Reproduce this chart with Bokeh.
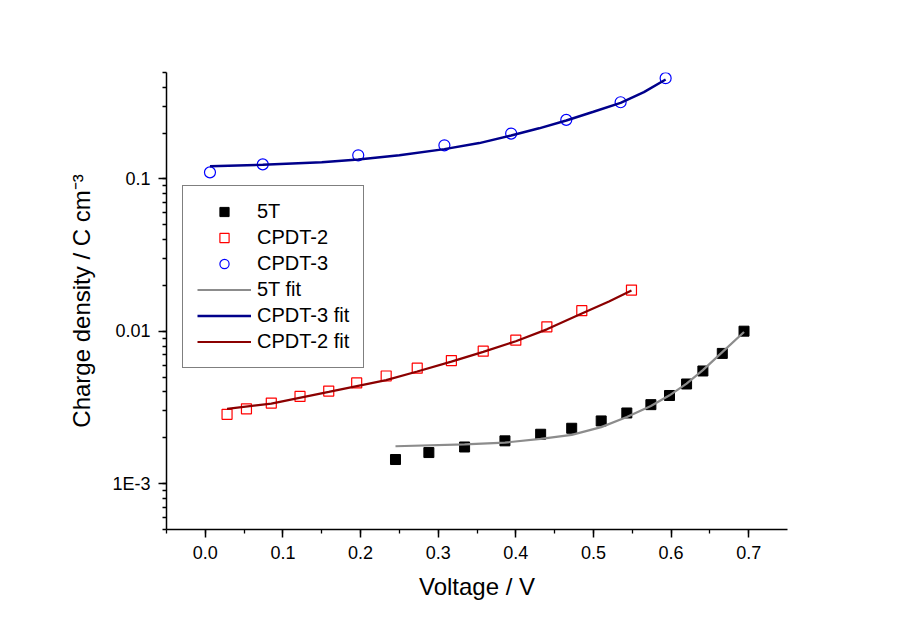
from bokeh.plotting import figure
from bokeh.models import Range1d, SingleIntervalTicker, LogTicker, PrintfTickFormatter, CustomJSTickFormatter
from bokeh.embed import file_html
from bokeh.resources import INLINE

# ---- data ----
x_5t = [0.245, 0.288, 0.334, 0.386, 0.432, 0.472, 0.510, 0.543, 0.574, 0.598, 0.620, 0.641, 0.666, 0.694]
y_5t = [0.00144, 0.00160, 0.00174, 0.00191, 0.00211, 0.00231, 0.00258, 0.00291, 0.00330, 0.00379, 0.00451, 0.00549, 0.00716, 0.01002]

x_cpdt2 = [0.028, 0.053, 0.085, 0.122, 0.159, 0.195, 0.233, 0.273, 0.317, 0.358, 0.400, 0.440, 0.485, 0.549]
y_cpdt2 = [0.00285, 0.00310, 0.00338, 0.00374, 0.00405, 0.00458, 0.00509, 0.00573, 0.00643, 0.00741, 0.00875, 0.0107, 0.01365, 0.01866]

x_cpdt3 = [0.006, 0.074, 0.197, 0.308, 0.394, 0.465, 0.535, 0.593]
y_cpdt3 = [0.1105, 0.1247, 0.143, 0.1663, 0.1986, 0.2443, 0.319, 0.459]

fit_5t_x = [0.245, 0.334, 0.386, 0.432, 0.472, 0.510, 0.543, 0.574, 0.598, 0.620, 0.641, 0.666, 0.694]
fit_5t_y = [0.00176, 0.00181, 0.00186, 0.00197, 0.00209, 0.00235, 0.00274, 0.00323, 0.00380, 0.00454, 0.00556, 0.00730, 0.00990]

fit_3_x = [0.006, 0.074, 0.150, 0.197, 0.250, 0.308, 0.353, 0.394, 0.430, 0.465, 0.500, 0.535, 0.565, 0.593]
fit_3_y = [0.121, 0.124, 0.129, 0.134, 0.143, 0.157, 0.172, 0.193, 0.215, 0.242, 0.276, 0.316, 0.372, 0.450]

fit_2_x = [0.028, 0.085, 0.159, 0.233, 0.273, 0.317, 0.358, 0.400, 0.440, 0.485, 0.520, 0.549]
fit_2_y = [0.0031, 0.00335, 0.0040, 0.00478, 0.00545, 0.00632, 0.00733, 0.00861, 0.0103, 0.0131, 0.0157, 0.0185]

y_tick_values = [0.001, 0.01, 0.1]
y_tick_labels = ["1E-3", "0.01", "0.1"]

FONT = "Liberation Sans"

p = figure(width=904, height=630, y_axis_type="log",
           x_range=Range1d(-0.05, 0.75), y_range=Range1d(5e-4, 0.5),
           output_backend="svg", toolbar_location=None,
           min_border_left=166, min_border_right=117,
           min_border_top=72, min_border_bottom=101)
p.xgrid.visible = False
p.ygrid.visible = False
p.outline_line_color = None
p.background_fill_color = "white"
p.border_fill_color = "white"

p.scatter(x_5t, y_5t, marker="square", size=10, fill_color="black",
          line_color="black", legend_label="5T")
p.scatter(x_cpdt2, y_cpdt2, marker="square", size=10, fill_color=None,
          line_color="#FF0000", line_width=1.2, legend_label="CPDT-2")
p.scatter(x_cpdt3, y_cpdt3, marker="circle", size=11, fill_color=None,
          line_color="#0000FF", line_width=1.2, legend_label="CPDT-3")
p.line(fit_5t_x, fit_5t_y, line_color="#8C8C8C", line_width=2.2, legend_label="5T fit")
p.line(fit_3_x, fit_3_y, line_color="#00008B", line_width=2.5, legend_label="CPDT-3 fit")
p.line(fit_2_x, fit_2_y, line_color="#8B0000", line_width=2.2, legend_label="CPDT-2 fit")

# axes
p.xaxis.ticker = SingleIntervalTicker(interval=0.1, num_minor_ticks=2)
p.xaxis.formatter = PrintfTickFormatter(format="%.1f")
p.yaxis.ticker = LogTicker(num_minor_ticks=10)
p.yaxis.formatter = CustomJSTickFormatter(
    args=dict(vals=y_tick_values, labs=y_tick_labels),
    code="""
    for (let i = 0; i < vals.length; i++) {
        if (Math.abs(Math.log10(tick) - Math.log10(vals[i])) < 1e-6) return labs[i];
    }
    return "";
    """)

p.xaxis.axis_label = "Voltage / V"
p.yaxis.axis_label = "Charge density / C cm\u207b\u00b3"

for ax in (p.xaxis[0], p.yaxis[0]):
    ax.axis_line_color = "black"
    ax.axis_line_width = 1.5
    ax.major_tick_line_color = "black"
    ax.major_tick_line_width = 1.5
    ax.minor_tick_line_color = "black"
    ax.minor_tick_line_width = 1.3
    ax.major_tick_in = 0
    ax.major_tick_out = 8
    ax.minor_tick_in = 0
    ax.minor_tick_out = 4
    ax.major_label_text_font = FONT
    ax.major_label_text_font_size = "18px"
    ax.major_label_text_color = "black"
    ax.axis_label_text_font = FONT
    ax.axis_label_text_font_size = "24px"
    ax.axis_label_text_font_style = "normal"
    ax.axis_label_text_color = "black"
    ax.major_label_standoff = 8

p.xaxis.axis_label_standoff = 11
p.yaxis.axis_label_standoff = 14

leg = p.legend[0]
leg.location = (16, 161)
leg.border_line_color = "black"
leg.border_line_width = 1.5
leg.background_fill_color = "white"
leg.background_fill_alpha = 1.0
leg.label_text_font = FONT
leg.label_text_font_size = "20px"
leg.label_text_color = "black"
leg.glyph_width = 54
leg.glyph_height = 23
leg.label_height = 23
leg.label_standoff = 6
leg.spacing = 3
leg.padding = 14
leg.margin = 0

open("out.html", "w").write(file_html(p, INLINE))
